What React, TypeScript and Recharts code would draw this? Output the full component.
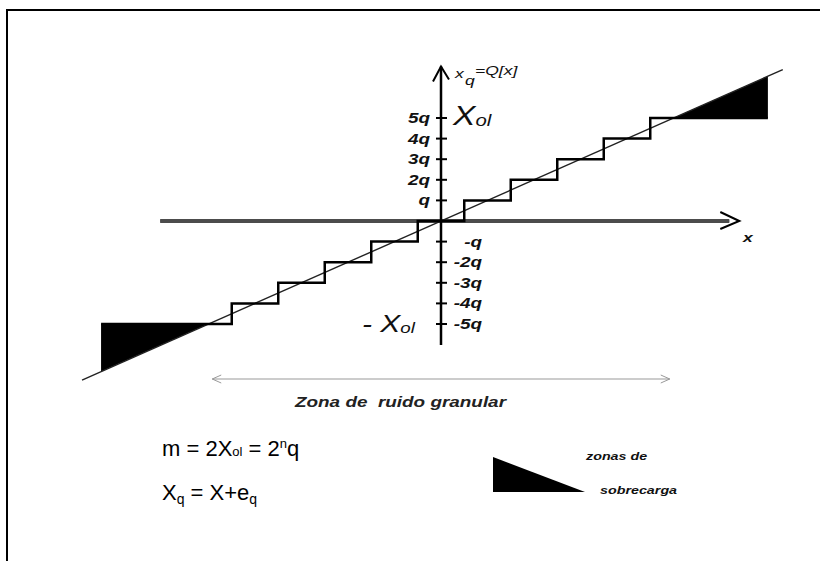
import { ComposedChart, Line, Area, Scatter, XAxis, YAxis } from "recharts";

const W = 820;
const H = 561;

// where the origin sits and how many pixels one q takes on each axis
const ORIGIN = { x: 441, y: 221 };
const PX_X = 46.5;
const PX_Y = 20.6;
const X_DOMAIN = [-ORIGIN.x / PX_X, (W - ORIGIN.x) / PX_X];
const Y_DOMAIN = [-(H - ORIGIN.y) / PX_Y, ORIGIN.y / PX_Y];

// quantizer output levels, in units of q
const levels = [-5, -4, -3, -2, -1, 0, 1, 2, 3, 4, 5];
const tickLevels = [-5, -4, -3, -2, -1, 1, 2, 3, 4, 5];
// input span of the staircase (outer edges of the overload zones)
const inputRange = [-7.31, 7.03];
// ideal line x_q = x
const idealRange = [-7.72, 7.35];
// axes
const xAxisRange = [-6.04, 6.2];
const yAxisRange = [-6.02, 7.5];
// granular-noise arrow, spans about +-X_ol below the axis
const granularRange = [-4.92, 4.92];
const granularLevel = -7.67;

const FONT = "'Liberation Sans', Arial, sans-serif";

// staircase: each level k holds from k-0.5 to k+0.5
const stairs: { x: number; y: number }[] = [];
levels.forEach((k, i) => {
  const from = i === 0 ? inputRange[0] : k - 0.5;
  const to = i === levels.length - 1 ? inputRange[1] : k + 0.5;
  stairs.push({ x: from, y: k }, { x: to, y: k });
});

const lo = levels[0];
const hi = levels[levels.length - 1];
const overloadLeft = [
  { x: inputRange[0], range: [inputRange[0], lo] },
  { x: lo, range: [lo, lo] },
];
const overloadRight = [
  { x: hi, range: [hi, hi] },
  { x: inputRange[1], range: [hi, inputRange[1]] },
];

const ideal = idealRange.map((v) => ({ x: v, y: v }));
const hAxis = xAxisRange.map((v) => ({ x: v, y: 0 }));
const vAxis = yAxisRange.map((v) => ({ x: 0, y: v }));
const granular = granularRange.map((v) => ({ x: v, y: granularLevel }));
const ticks = tickLevels.map((k) => ({ x: 0, y: k }));

// text from the scanned figure is horizontally stretched
const Stretched = ({ x, y, size, anchor = "start", weight = "bold", sx = 1.35, fill = "#111", children }: any) => (
  <text
    transform={`translate(${x},${y}) scale(${sx},1)`}
    fontSize={size}
    fontStyle="italic"
    fontWeight={weight}
    fontFamily={FONT}
    textAnchor={anchor}
    fill={fill}
    style={{ whiteSpace: "pre" }}
  >
    {children}
  </text>
);

const TickMark = (props: any) => {
  const { cx, cy, payload } = props;
  const k = payload.y;
  const label = (k < 0 ? "-" : "") + (Math.abs(k) === 1 ? "" : Math.abs(k)) + "q";
  return (
    <g>
      <line x1={cx - 5} x2={cx + 6} y1={cy} y2={cy} stroke="#000" strokeWidth={2} />
      {k > 0 ? (
        <Stretched x={cx - 11} y={cy + 5} size={14} anchor="end">{label}</Stretched>
      ) : (
        <Stretched x={cx + 41} y={cy + 5} size={14} anchor="end">{label}</Stretched>
      )}
    </g>
  );
};

const ArrowRight = ({ cx, cy }: any) => (
  <polyline points={`${cx - 9},${cy - 9} ${cx + 10},${cy} ${cx - 9},${cy + 8}`} fill="none" stroke="#000" strokeWidth={2} />
);
const ArrowUp = ({ cx, cy }: any) => (
  <polyline points={`${cx - 8},${cy + 15} ${cx},${cy} ${cx + 8},${cy + 13}`} fill="none" stroke="#000" strokeWidth={2} />
);
const GranularHead = ({ cx, cy, payload }: any) => {
  const d = payload.x < 0 ? 9 : -9;
  return <polyline points={`${cx + d},${cy - 4} ${cx},${cy} ${cx + d},${cy + 4}`} fill="none" stroke="#999" strokeWidth={1} />;
};

export default function App() {
  return (
    <div style={{ position: "absolute", left: 0, top: 0, width: W, height: H, overflow: "hidden", background: "#fff" }}>
      <div
        style={{
          position: "absolute",
          left: 6,
          top: 9,
          width: W,
          height: H,
          borderLeft: "2.5px solid #000",
          borderTop: "2.5px solid #000",
        }}
      />
      <div style={{ position: "absolute", left: 0, top: 0 }}>
        <ComposedChart width={W} height={H} margin={{ top: 0, right: 0, bottom: 0, left: 0 }}>
          <XAxis type="number" dataKey="x" domain={X_DOMAIN} allowDataOverflow hide />
          <YAxis type="number" dataKey="y" domain={Y_DOMAIN} allowDataOverflow hide />

          <Area data={overloadLeft} dataKey="range" type="linear" fill="#000" fillOpacity={1} stroke="none" isAnimationActive={false} />
          <Area data={overloadRight} dataKey="range" type="linear" fill="#000" fillOpacity={1} stroke="none" isAnimationActive={false} />

          <Line data={hAxis} dataKey="y" stroke="#111" strokeWidth={3.5} dot={false} activeDot={false} isAnimationActive={false} />
          <Line data={hAxis} dataKey="y" stroke="#888" strokeWidth={1} dot={false} activeDot={false} isAnimationActive={false} />
          <Line data={vAxis} dataKey="y" stroke="#000" strokeWidth={2.5} dot={false} activeDot={false} isAnimationActive={false} />

          <Line data={ideal} dataKey="y" stroke="#222" strokeWidth={1.4} dot={false} activeDot={false} isAnimationActive={false} />
          <Line data={stairs} dataKey="y" stroke="#000" strokeWidth={2.5} dot={false} activeDot={false} isAnimationActive={false} />

          <Line data={granular} dataKey="y" stroke="#999" strokeWidth={1} dot={false} activeDot={false} isAnimationActive={false} />
          <Scatter data={granular} dataKey="y" shape={GranularHead} isAnimationActive={false} />

          <Scatter data={ticks} dataKey="y" shape={TickMark} isAnimationActive={false} />
          <Scatter data={[hAxis[1]]} dataKey="y" shape={ArrowRight} isAnimationActive={false} />
          <Scatter data={[vAxis[1]]} dataKey="y" shape={ArrowUp} isAnimationActive={false} />
        </ComposedChart>
      </div>

      <svg width={W} height={H} style={{ position: "absolute", left: 0, top: 0 }}>
        {/* y axis name */}
        <Stretched x={455} y={78} size={13} weight="normal">
          x<tspan dx={1} dy={7}>q</tspan>
          <tspan dy={-10}>=Q[x]</tspan>
        </Stretched>
        {/* x axis name */}
        <Stretched x={743} y={242} size={13}>x</Stretched>

        <Stretched x={453} y={125} size={28} weight="normal" sx={1.2}>
          X<tspan fontSize={17} dy={1}>ol</tspan>
        </Stretched>
        <Stretched x={362} y={332} size={24} weight="normal" sx={1.25}>
          {"- X"}
          <tspan fontSize={15} dy={1}>ol</tspan>
        </Stretched>

        <Stretched x={295} y={407} size={14} fill="#222">
          {"Zona de  ruido granular"}
        </Stretched>

        {/* formulas */}
        <text x={162} y={456} fontSize={22} fontFamily={FONT} fill="#000">
          m = 2X<tspan fontSize={13}>ol</tspan>
          <tspan>{" = 2"}</tspan>
          <tspan fontSize={13} dy={-8}>n</tspan>
          <tspan dy={8}>q</tspan>
        </text>
        <text x={162} y={500} fontSize={22} fontFamily={FONT} fill="#000">
          X<tspan fontSize={14} dy={4}>q</tspan>
          <tspan dy={-4}>{" = X+e"}</tspan>
          <tspan fontSize={14} dy={4}>q</tspan>
        </text>

        {/* overload legend */}
        <polygon points="493,457 493,492 585,492" fill="#000" />
        <Stretched x={586} y={460} size={11} sx={1.3}>zonas de</Stretched>
        <Stretched x={600} y={494} size={11} sx={1.3}>sobrecarga</Stretched>
      </svg>
    </div>
  );
}
